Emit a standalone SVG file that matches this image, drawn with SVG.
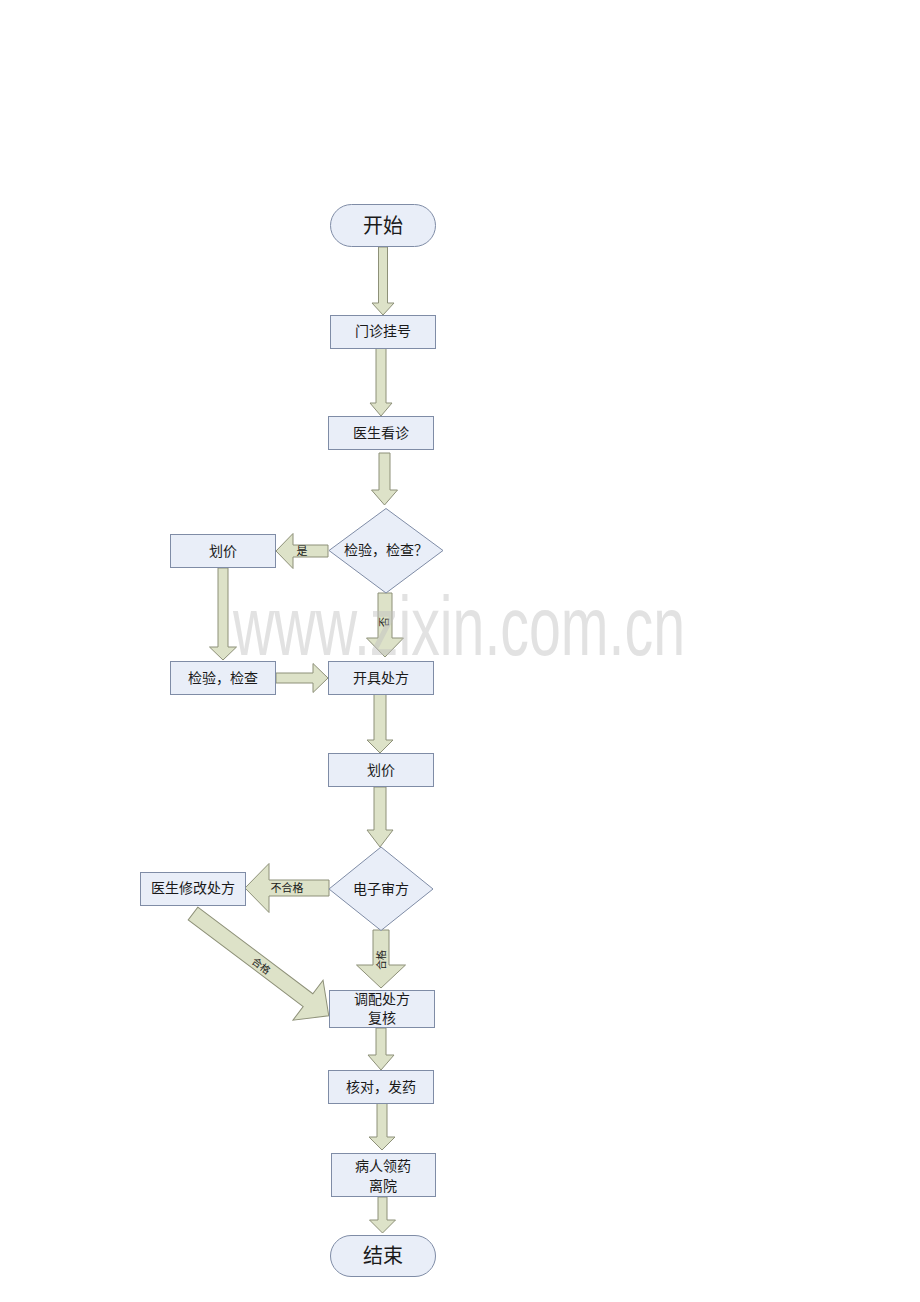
<svg xmlns="http://www.w3.org/2000/svg" width="920" height="1302" viewBox="0 0 920 1302">
<style>
.node{fill:#E9EEF8;stroke:#7F8CA6;stroke-width:1}
.arr{fill:#DDE2C8;stroke:#8D9078;stroke-width:1}
.t{font-family:"Liberation Serif","Noto Sans CJK SC",serif;fill:#1a1a1a;text-anchor:middle;dominant-baseline:central}
.t14{font-size:14px}
.t20{font-size:20px}
.lbl{font-family:"Liberation Serif","Noto Sans CJK SC",serif;fill:#1a1a1a;text-anchor:middle;dominant-baseline:central;font-size:10px}
.wm{font-family:"Liberation Sans",Arial,sans-serif;font-size:83px;fill:#BFBFBF;fill-opacity:0.45}
</style>
<rect width="920" height="1302" fill="#FFFFFF"/>
<g id="connectors">
  <path class="arr" d="M378.5,247 H387.5 V303 H394 L383,315 L372,303 H378.5 Z"/>
  <path class="arr" d="M376,348 H386 V403 H392 L381,416 L370,403 H376 Z"/>
  <path class="arr" d="M379,453 H390 V490 H397.5 L384.5,505 L371.5,490 H379 Z"/>
  <path class="arr" d="M328,545 V557 H293 V568.5 L276,551 L293,533.5 V545 Z"/>
  <text class="lbl" x="302" y="551" style="font-size:11px">是</text>
  <path class="arr" d="M378,593 H392 V638 H403.5 L385,657 L366.5,638 H378 Z"/>
  <text class="lbl" transform="translate(384,622) rotate(-90)">否</text>
  <path class="arr" d="M218,568 H228 V647 H236.5 L223,660 L209.5,647 H218 Z"/>
  <path class="arr" d="M276,673 V683 H313 V692.5 L328,678 L313,663.5 V673 Z"/>
  <path class="arr" d="M374,694 H386 V740 H393 L380,753 L367,740 H374 Z"/>
  <path class="arr" d="M374,787 H386 V830 H393 L380,847 L367,830 H374 Z"/>
  <path class="arr" d="M329,880 V896 H269 V912.5 L245,888 L269,863.5 V880 Z"/>
  <text class="lbl" x="287" y="888" style="font-size:11px">不合格</text>
  <path class="arr" d="M373,930 H389 V965 H405.5 L381,988 L356.5,965 H373 Z"/>
  <text class="lbl" transform="translate(381,960) rotate(-90)">合格</text>
  <g transform="translate(193,913.5) rotate(37)">
    <path class="arr" d="M0,-8 H144 V-25 L170,0 L144,25 V8 H0 Z"/>
    <text class="lbl" x="86" y="1">合格</text>
  </g>
  <path class="arr" d="M376,1028 H386 V1055 H394 L381,1070 L368,1055 H376 Z"/>
  <path class="arr" d="M377,1103 H387 V1137 H395 L382,1150 L369,1137 H377 Z"/>
  <path class="arr" d="M378,1197 H387 V1220 H395.5 L382.5,1233 L369.5,1220 H378 Z"/>
</g>
<g id="start">
  <rect class="node" x="330.5" y="204.5" width="105" height="42" rx="21" ry="21"/>
  <text class="t t20" x="383" y="226">开始</text>
</g>
<g id="register">
  <rect class="node" x="330.5" y="315.5" width="105" height="33"/>
  <text class="t t14" x="383" y="331">门诊挂号</text>
</g>
<g id="doctor">
  <rect class="node" x="328.5" y="416.5" width="105" height="33"/>
  <text class="t t14" x="381" y="433">医生看诊</text>
</g>
<g id="decision1">
  <polygon class="node" points="386,508.5 443,550.5 386,593 329,550.5"/>
  <text class="t t14" x="386" y="550">检验，检查？</text>
</g>
<g id="price1">
  <rect class="node" x="170.5" y="534.5" width="105" height="33"/>
  <text class="t t14" x="223" y="551">划价</text>
</g>
<g id="exam">
  <rect class="node" x="170.5" y="661.5" width="105" height="33"/>
  <text class="t t14" x="223" y="678">检验，检查</text>
</g>
<g id="prescribe">
  <rect class="node" x="328.5" y="661.5" width="105" height="33"/>
  <text class="t t14" x="381" y="678">开具处方</text>
</g>
<g id="price2">
  <rect class="node" x="328.5" y="753.5" width="105" height="33"/>
  <text class="t t14" x="381" y="770">划价</text>
</g>
<g id="decision2">
  <polygon class="node" points="381,847 433,889 381,930.5 329,889"/>
  <text class="t t14" x="381" y="889">电子审方</text>
</g>
<g id="modify">
  <rect class="node" x="140.5" y="872.5" width="105" height="33"/>
  <text class="t t14" x="193" y="888">医生修改处方</text>
</g>
<g id="dispense">
  <rect class="node" x="329.5" y="990.5" width="105" height="37"/>
  <text class="t t14" x="382" y="999">调配处方</text>
  <text class="t t14" x="382" y="1018">复核</text>
</g>
<g id="check">
  <rect class="node" x="328.5" y="1070.5" width="105" height="33"/>
  <text class="t t14" x="381" y="1087">核对，发药</text>
</g>
<g id="leave">
  <rect class="node" x="331.5" y="1153.5" width="104" height="43"/>
  <text class="t t14" x="383" y="1166">病人领药</text>
  <text class="t t14" x="383" y="1186">离院</text>
</g>
<g id="end">
  <rect class="node" x="330.5" y="1235.5" width="105" height="41" rx="20.5" ry="20.5"/>
  <text class="t t20" x="383" y="1256">结束</text>
</g>
<text class="wm" x="233" y="655" textLength="452" lengthAdjust="spacingAndGlyphs">www.zixin.com.cn</text>
</svg>
